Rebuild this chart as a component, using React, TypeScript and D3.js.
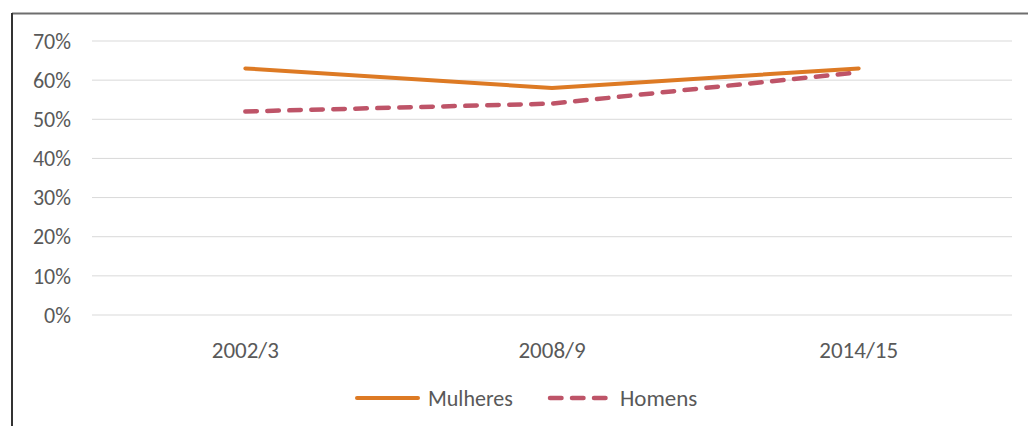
import React from "react";
import * as d3 from "d3";

const categories = ["2002/3", "2008/9", "2014/15"];
const mulheres = [0.63, 0.58, 0.63];
const homens = [0.52, 0.54, 0.62];
const yTicks = [0, 0.1, 0.2, 0.3, 0.4, 0.5, 0.6, 0.7];
const seriesNames = ["Mulheres", "Homens"];

const W = 1028;
const H = 426;
const left = 92;
const right = 1012;
const top = 41;
const bottom = 315;

export default function App() {
  const x = d3.scaleBand<string>().domain(categories).range([left, right]);
  const y = d3.scaleLinear().domain([0, 0.7]).range([bottom, top]);
  const cx = (c: string) => (x(c) as number) + x.bandwidth() / 2;
  const line = d3
    .line<number>()
    .x((_, i) => cx(categories[i]))
    .y((d) => y(d));
  const fmt = d3.format(".0%");
  const font = "Calibri, Carlito, 'Open Sans', 'Liberation Sans', sans-serif";
  const textColor = "#595959";
  const orange = "#DD7A24";
  const rose = "#BE5468";

  return (
    <svg
      width={W}
      height={H}
      style={{ position: "absolute", left: 0, top: 0, background: "#fff" }}
      fontFamily={font}
    >
      <rect x={0} y={0} width={W} height={H} fill="#fff" />
      {/* frame */}
      <line x1={12} x2={W} y1={13.5} y2={13.5} stroke="#6e6e6e" strokeWidth={2} />
      <line x1={12} x2={12} y1={13} y2={H} stroke="#333" strokeWidth={2} />
      {/* gridlines */}
      {yTicks.map((t) => (
        <g key={t}>
          <line x1={left} x2={right} y1={y(t)} y2={y(t)} stroke="#d9d9d9" strokeWidth={1} />
          <text
            x={71}
            y={y(t)}
            dy="0.35em"
            textAnchor="end"
            fontSize={22}
            fill={textColor}
          >
            {fmt(t)}
          </text>
        </g>
      ))}
      {categories.map((c) => (
        <text key={c} x={cx(c)} y={350} dy="0.35em" textAnchor="middle" fontSize={23} fill={textColor}>
          {c}
        </text>
      ))}
      <path
        d={line(homens) || ""}
        fill="none"
        stroke={rose}
        strokeWidth={4.5}
        strokeDasharray="11.5 10.5"
        strokeLinecap="round"
      />
      <path
        d={line(mulheres) || ""}
        fill="none"
        stroke={orange}
        strokeWidth={4}
        strokeLinecap="round"
        strokeLinejoin="round"
      />
      {/* legend */}
      <line x1={357} x2={418} y1={398} y2={398} stroke={orange} strokeWidth={4} strokeLinecap="round" />
      <text x={428} y={398} dy="0.35em" fontSize={22} fill={textColor}>
        {seriesNames[0]}
      </text>
      <line
        x1={550}
        x2={606}
        y1={398}
        y2={398}
        stroke={rose}
        strokeWidth={4.5}
        strokeDasharray="11.5 10.5"
        strokeLinecap="round"
      />
      <text x={620} y={398} dy="0.35em" fontSize={23} fill={textColor}>
        {seriesNames[1]}
      </text>
    </svg>
  );
}
